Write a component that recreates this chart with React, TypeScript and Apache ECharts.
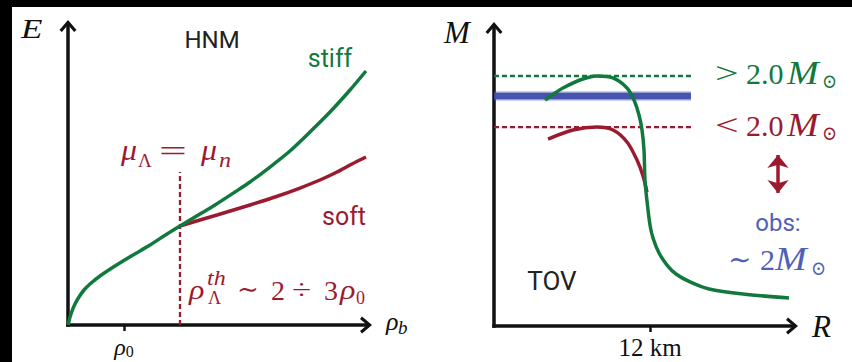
import React, { useEffect, useRef } from "react";
import * as echarts from "echarts";

// ---------- Left panel (HNM): energy E vs baryon density rho_b (units of rho_0) ----------
const hnmStiffRho = [0, 0.018, 0.036, 0.071, 0.125, 0.196, 0.286, 0.393, 0.571, 0.839, 1.161, 1.464, 1.768, 2.0, 2.357, 2.625, 2.982, 3.25, 3.607, 3.964, 4.321, 4.679, 5.036, 5.321];
const hnmStiffE = [0, 0.133, 0.266, 0.465, 0.698, 0.93, 1.163, 1.362, 1.628, 1.96, 2.326, 2.658, 3.023, 3.289, 3.688, 3.987, 4.419, 4.751, 5.249, 5.781, 6.412, 7.076, 7.807, 8.439];
const hnmSoftRho = [2.0, 2.357, 2.661, 3.25, 3.696, 4.143, 4.5, 4.804, 5.071, 5.321];
const hnmSoftE = [3.289, 3.488, 3.654, 3.987, 4.252, 4.551, 4.817, 5.083, 5.349, 5.581];
const hyperonThreshold = 2.0;
const thresholdLineTop = 5.083;
const rhoTickValues = [1];
const rhoTickLabels = ["{it|ρ}{sub|0}"];

// ---------- Right panel (TOV): mass M vs radius R (km) ----------
const tovStiffR = [9.308, 9.564, 9.769, 10.205, 10.641, 11.051, 11.41, 11.59, 11.718, 11.795, 11.846, 11.872, 11.923, 12.0, 12.077, 12.231, 12.436, 12.667, 13.026, 13.513, 14.385, 15.564];
const tovStiffM = [1.965, 2.026, 2.07, 2.139, 2.174, 2.157, 2.07, 1.965, 1.835, 1.704, 1.53, 1.261, 1.087, 0.878, 0.765, 0.635, 0.53, 0.452, 0.383, 0.322, 0.278, 0.243];
const tovSoftR = [9.385, 10.026, 10.641, 11.051, 11.41, 11.667, 11.821, 11.923];
const tovSoftM = [1.626, 1.704, 1.73, 1.704, 1.6, 1.443, 1.304, 1.165];
const stiffMaxMass = 2.174;
const softMaxMass = 1.73;
const observedMass = 2.0;
const limitLineEndR = 13.1;
const obsBandEndR = 13.05;
const radiusTickValues = [12];
const radiusTickLabels = ["12 km"];
const arrowR = 15.282;
const arrowMTop = 1.487;
const arrowMBottom = 1.157;

const zip = (xs: number[], ys: number[]) => xs.map((x, i) => [x, ys[i]]);

const GREEN = "#11793d";
const RED = "#9c1a2f";
const BLUE = "#3e4dab";
const BLUE_TEXT = "#5060b8";
const INK = "#111111";
const SERIF = "'Liberation Serif', 'DejaVu Serif', serif";
const SYM = "'DejaVu Serif', 'Liberation Serif', serif";
const SANS = "Roboto, 'Liberation Sans', sans-serif";
const ARROW = "path://M0,10 L8.5,0 L17,10 L14.6,12 L8.5,4.8 L2.4,12 Z";

const axisLineStyle = {
  show: true,
  onZero: false,
  symbol: ["none", ARROW],
  symbolSize: [17, 12],
  lineStyle: { color: INK, width: 3.5, cap: "square" },
};

const hiddenAxisBits = {
  splitLine: { show: false },
  axisTick: { show: false },
  axisLabel: { show: false },
};

function txt(x: number, y: number, text: string, style: any, align = "center", scaleX = 1) {
  return {
    type: "text",
    x,
    y,
    scaleX,
    silent: true,
    z: 10,
    style: {
      text,
      align,
      verticalAlign: "middle",
      textAlign: align,
      textVerticalAlign: "middle",
      ...style,
    },
  };
}

// math piece: left aligned, italic or upright serif, optional horizontal stretch
function mp(x: number, y: number, text: string, size: number, color: string, italic = false, family = SERIF, sx = 1) {
  return txt(x, y, text, { fontFamily: family, fontStyle: italic ? "italic" : "normal", fontSize: size, fill: color }, "left", sx);
}

export default function App() {
  const ref = useRef<HTMLDivElement>(null);

  useEffect(() => {
    document.body.style.margin = "0";
    if (!ref.current) return;
    const chart = echarts.init(ref.current, undefined, { renderer: "svg" });

    const option: any = {
      animation: false,
      backgroundColor: "#000",
      graphic: [
        { type: "rect", z: -10, silent: true, shape: { x: 12, y: 7, width: 840, height: 355 }, style: { fill: "#fff" } },
        // axis names
        mp(21, 29, "E", 27, INK, true, SERIF, 1.3),
        mp(386, 321, "ρ", 26, INK, true),
        mp(398, 327, "b", 19, INK, true),
        mp(444, 32, "M", 31, INK, true),
        mp(812, 326, "R", 31, INK, true),
        // sans labels
        txt(212, 40, "HNM", { fontFamily: SANS, fontSize: 24, fill: "#222" }),
        txt(330, 58, "stiff", { fontFamily: SANS, fontSize: 25, fill: GREEN }),
        txt(344, 216, "soft", { fontFamily: SANS, fontSize: 25, fill: RED }),
        txt(552, 281, "TOV", { fontFamily: SANS, fontSize: 26, fill: "#222" }),
        txt(778, 223, "obs:", { fontFamily: SANS, fontSize: 24, fill: BLUE_TEXT }),
        // mu_Lambda = mu_n
        mp(121, 150, "μ", 29, RED, true, SERIF, 1.1),
        mp(138, 160, "Λ", 19, RED),
        mp(159, 151, "=", 29, RED, false, SERIF, 1.7),
        mp(201, 150, "μ", 29, RED, true, SERIF, 1.1),
        mp(219, 160, "n", 20, RED, true, SERIF, 1.2),
        // rho_Lambda^th ~ 2 ÷ 3 rho_0
        mp(189, 290, "ρ", 28, RED, true, SERIF, 1.15),
        mp(207, 278, "th", 20, RED, true, SERIF, 1.2),
        mp(208, 298, "Λ", 18, RED),
        mp(237, 289, "∼", 26, RED, false, SYM),
        mp(271, 290, "2", 28, RED),
        mp(292, 290, "÷", 28, RED, false, SERIF, 1.25),
        mp(324, 290, "3", 28, RED),
        mp(340, 290, "ρ", 28, RED, true, SERIF, 1.15),
        mp(356, 298, "0", 18, RED),
        // > 2.0 M_sun
        mp(715, 73, ">", 30, GREEN, false, SERIF, 1.4),
        mp(746, 73, "2.0", 30, GREEN),
        mp(787, 73, "M", 33, GREEN, true, SERIF, 1.15),
        mp(822, 81, "⊙", 20, GREEN, false, SYM, 0.9),
        // < 2.0 M_sun
        mp(715, 125, "<", 30, RED, false, SERIF, 1.4),
        mp(746, 125, "2.0", 30, RED),
        mp(787, 125, "M", 33, RED, true, SERIF, 1.15),
        mp(822, 133, "⊙", 20, RED, false, SYM, 0.9),
        // ~ 2 M_sun
        mp(728, 259, "∼", 28, BLUE_TEXT, false, SYM),
        mp(760, 259, "2", 30, BLUE_TEXT),
        mp(775, 259, "M", 33, BLUE_TEXT, true, SERIF, 1.15),
        mp(811, 268, "⊙", 20, BLUE_TEXT, false, SYM, 0.9),
      ],
      grid: [
        { left: 68, top: 26, width: 298, height: 299 },
        { left: 494, top: 28, width: 298, height: 298 },
      ],
      xAxis: [
        {
          gridIndex: 0,
          type: "value",
          min: 0,
          max: 5.3214,
          axisLine: axisLineStyle,
          splitLine: { show: false },
          axisTick: { show: true, customValues: rhoTickValues, length: 6, lineStyle: { color: INK, width: 2.5 } },
          axisLabel: {
            show: true,
            customValues: rhoTickValues,
            margin: 9,
            formatter: (v: number) => rhoTickLabels[rhoTickValues.indexOf(v)] ?? "",
            rich: {
              it: { fontFamily: SERIF, fontStyle: "italic", fontSize: 24, color: INK },
              sub: { fontFamily: SERIF, fontSize: 16, color: INK, padding: [9, 0, 0, 0] },
            },
          },
        },
        {
          gridIndex: 1,
          type: "value",
          min: 8,
          max: 15.641,
          axisLine: axisLineStyle,
          splitLine: { show: false },
          axisTick: { show: true, customValues: radiusTickValues, length: 6, lineStyle: { color: INK, width: 2.5 } },
          axisLabel: {
            show: true,
            customValues: radiusTickValues,
            margin: 9,
            formatter: (v: number) => radiusTickLabels[radiusTickValues.indexOf(v)] ?? "",
            fontFamily: SERIF,
            fontSize: 25,
            color: INK,
          },
        },
      ],
      yAxis: [
        { gridIndex: 0, type: "value", min: 0, max: 9.934, axisLine: axisLineStyle, ...hiddenAxisBits },
        { gridIndex: 1, type: "value", min: 0, max: 2.5913, axisLine: axisLineStyle, ...hiddenAxisBits },
      ],
      series: [
        {
          type: "line", xAxisIndex: 0, yAxisIndex: 0, showSymbol: false, silent: true, clip: false, z: 3,
          data: [[hyperonThreshold, 0], [hyperonThreshold, thresholdLineTop]],
          lineStyle: { color: RED, width: 2.3, type: [5, 3] },
        },
        {
          type: "line", xAxisIndex: 0, yAxisIndex: 0, showSymbol: false, silent: true, clip: false, smooth: 0.25, z: 4,
          data: zip(hnmSoftRho, hnmSoftE),
          lineStyle: { color: RED, width: 3.5 },
        },
        {
          type: "line", xAxisIndex: 0, yAxisIndex: 0, showSymbol: false, silent: true, clip: false, smooth: 0.25, z: 5,
          data: zip(hnmStiffRho, hnmStiffE),
          lineStyle: { color: GREEN, width: 3.5 },
        },
        {
          type: "line", xAxisIndex: 1, yAxisIndex: 1, showSymbol: false, silent: true, z: 2,
          data: [[8, observedMass], [obsBandEndR, observedMass]],
          lineStyle: { color: BLUE, width: 9, opacity: 0.55 },
        },
        {
          type: "line", xAxisIndex: 1, yAxisIndex: 1, showSymbol: false, silent: true, z: 2,
          data: [[8, observedMass], [obsBandEndR, observedMass]],
          lineStyle: { color: BLUE, width: 6, opacity: 0.9 },
        },
        {
          type: "line", xAxisIndex: 1, yAxisIndex: 1, showSymbol: false, silent: true, z: 3,
          data: [[8, stiffMaxMass], [limitLineEndR, stiffMaxMass]],
          lineStyle: { color: GREEN, width: 2.3, type: [5, 3] },
        },
        {
          type: "line", xAxisIndex: 1, yAxisIndex: 1, showSymbol: false, silent: true, z: 3,
          data: [[8, softMaxMass], [limitLineEndR, softMaxMass]],
          lineStyle: { color: RED, width: 2.3, type: [5, 3] },
        },
        {
          type: "line", xAxisIndex: 1, yAxisIndex: 1, showSymbol: false, silent: true, smooth: 0.3, z: 4,
          data: zip(tovSoftR, tovSoftM),
          lineStyle: { color: RED, width: 3.5 },
        },
        {
          type: "line", xAxisIndex: 1, yAxisIndex: 1, showSymbol: false, silent: true, smooth: 0.3, z: 5,
          data: zip(tovStiffR, tovStiffM),
          lineStyle: { color: GREEN, width: 3.5 },
        },
        {
          type: "line", xAxisIndex: 1, yAxisIndex: 1, data: [], silent: true,
          markLine: {
            silent: true,
            symbol: ["arrow", "arrow"],
            symbolSize: [16, 13],
            label: { show: false },
            lineStyle: { color: RED, width: 3.5, type: "solid" },
            emphasis: { disabled: true },
            data: [[{ coord: [arrowR, arrowMTop] }, { coord: [arrowR, arrowMBottom] }]],
          },
        },
      ],
    };

    chart.setOption(option);
    return () => chart.dispose();
  }, []);

  return <div ref={ref} style={{ width: 852, height: 362 }} />;
}
